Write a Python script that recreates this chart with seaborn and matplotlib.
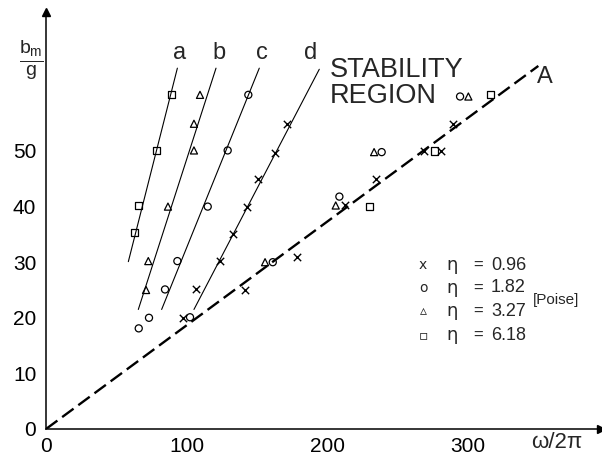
import pandas as pd
import matplotlib.pyplot as plt
import seaborn as sns

# points, one list pair per viscosity
x_096 = [97.7, 106.5, 123.8, 132.9, 142.8, 151.1, 163.0, 171.8, 141.6, 178.4, 212.8, 234.9, 269.0, 280.9, 289.5]
y_096 = [20.0, 25.1, 30.2, 35.1, 40.0, 45.0, 49.6, 54.9, 25.0, 31.0, 40.3, 44.9, 50.0, 50.0, 54.9]
x_182 = [66.0, 73.3, 84.7, 93.5, 115.1, 129.3, 144.0, 102.5, 161.4, 208.8, 238.9, 294.7]
y_182 = [18.1, 20.0, 25.1, 30.2, 40.0, 50.1, 60.1, 20.1, 30.0, 41.8, 49.8, 59.8]
x_327 = [71.2, 72.8, 86.8, 105.3, 105.3, 109.6, 155.9, 206.2, 233.5, 300.6]
y_327 = [25.0, 30.2, 40.0, 50.1, 54.9, 60.1, 30.0, 40.2, 49.8, 59.8]
x_618 = [63.3, 65.7, 78.8, 89.0, 230.1, 276.2, 316.5]
y_618 = [35.4, 40.2, 50.1, 60.1, 40.1, 50.0, 60.1]

eta_labels = ["0.96", "1.82", "3.27", "6.18"]
eta_markers = ["x", "o", "^", "s"]
eta_glyphs = ["x", "o", "\u25b5", "\u25ab"]

# fitted lines a-d (end points) and the boundary line A
line_names = ["a", "b", "c", "d"]
line_x = [[58.6, 93.5], [65.7, 121.0], [82.3, 151.8], [105.3, 194.5]]
line_y = [[30.1, 64.9], [21.5, 64.9], [21.5, 64.9], [21.5, 64.7]]
line_lab_x = [95, 123, 153.5, 188]
A_x = [0, 350.4]
A_y = [0, 65.3]

rows = []
for lab, xs, ys in zip(eta_labels, [x_096, x_182, x_327, x_618], [y_096, y_182, y_327, y_618]):
    for xv, yv in zip(xs, ys):
        rows.append({"w": xv, "b": yv, "eta": lab})
df = pd.DataFrame(rows)

sns.set_style("white")
plt.rcParams["font.family"] = ["Liberation Sans", "DejaVu Sans"]
plt.rcParams["mathtext.fontset"] = "custom"
plt.rcParams["mathtext.rm"] = "Liberation Sans"
plt.rcParams["mathtext.it"] = "Liberation Sans"

fig = plt.figure(figsize=(6.02, 4.58), dpi=100)
ax = fig.add_axes([46 / 602, 29 / 458, 555 / 602, 417 / 458])

for name, xs, ys in zip(line_names, line_x, line_y):
    sns.lineplot(x=xs, y=ys, ax=ax, color="k", lw=0.8)
sns.lineplot(x=A_x, y=A_y, ax=ax, color="k", lw=1.7).lines[-1].set_dashes((6, 2.5))

for lab, m in zip(eta_labels, eta_markers):
    sub = df[df["eta"] == lab]
    if m == "x":
        sns.scatterplot(data=sub, x="w", y="b", ax=ax, marker="x", color="k", s=28, linewidth=1.0)
    else:
        sns.scatterplot(data=sub, x="w", y="b", ax=ax, marker=m, s=26, facecolor="none",
                        edgecolor="k", linewidth=0.9)

ax.set_xlim(0, 395)
ax.set_ylim(0, 75)
ax.set_xlabel("")
ax.set_ylabel("")
sns.despine(ax=ax)
for s in ["left", "bottom"]:
    ax.spines[s].set_linewidth(1.1)
    ax.spines[s].set_color("k")
ax.plot(1, 0, ">k", ms=6, transform=ax.transAxes, clip_on=False)
ax.plot(0, 1, "^k", ms=6, transform=ax.transAxes, clip_on=False)

ax.set_xticks([0, 100, 200, 300])
ax.set_xticks(range(20, 400, 20), minor=True)
ax.set_yticks([0, 10, 20, 30, 40, 50])
ax.set_yticks(range(5, 65, 5), minor=True)
ax.tick_params(which="both", direction="out", length=5, width=1, color="k", labelsize=15, labelcolor="k")
ax.tick_params(axis="x", pad=1)
ax.tick_params(axis="y", pad=2)
ax.grid(False)

for name, lx in zip(line_names, line_lab_x):
    ax.text(lx, 66.5, name, ha="center", va="baseline", fontsize=17)
ax.text(202, 63.3, "STABILITY", ha="left", va="baseline", fontsize=19.5)
ax.text(202, 58.6, "REGION", ha="left", va="baseline", fontsize=19.5)
ax.text(349.5, 62.2, "A", ha="left", va="baseline", fontsize=17)

fig.text(557 / 602, 1 - 443 / 458, "\u03c9/2\u03c0", ha="center", va="center", fontsize=16)
fig.text(31 / 602, 1 - 60 / 458, r"$\frac{\mathrm{b_m}}{\mathrm{g}}$", ha="center", va="center", fontsize=20)

# legend drawn as a small table of text
row_py = [265, 288, 311, 335]
for py, glyph, lab in zip(row_py, eta_glyphs, eta_labels):
    yy = 1 - py / 458
    fig.text(423 / 602, yy, glyph, ha="center", va="center", fontsize=10, family=["DejaVu Sans"])
    fig.text(452 / 602, yy, "\u03b7", ha="center", va="center", fontsize=13, family=["DejaVu Sans"])
    fig.text(478 / 602, yy, "=", ha="center", va="center", fontsize=12)
    fig.text(526 / 602, yy, lab, ha="right", va="center", fontsize=13)
fig.text(556 / 602, 1 - 300 / 458, "[Poise]", ha="center", va="center", fontsize=11)

fig.savefig("out.png", dpi=100)
